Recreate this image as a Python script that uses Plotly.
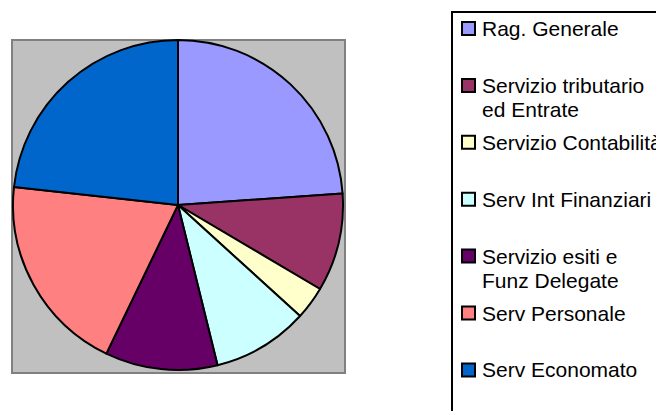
import plotly.graph_objects as go

W, H = 656, 411

labels = [
    "Rag. Generale",
    "Servizio tributario<br>ed Entrate",
    "Servizio Contabilità",
    "Serv Int Finanziari",
    "Servizio esiti e<br>Funz Delegate",
    "Serv Personale",
    "Serv Economato",
]
values = [23.9, 9.6, 3.25, 9.4, 11.0, 19.6, 23.25]
colors = ["#9999FF", "#993366", "#FFFFCC", "#CCFFFF", "#660066", "#FF8080", "#0066CC"]

FONT = "Liberation Sans, Arial, sans-serif"


def px_x(v):
    return v / W


def px_y(v):
    return 1 - v / H


fig = go.Figure(go.Pie(
    labels=labels,
    values=values,
    sort=False,
    direction="clockwise",
    rotation=0,
    textinfo="none",
    hoverinfo="label+percent",
    showlegend=False,
    marker=dict(colors=colors, line=dict(color="black", width=2)),
    domain=dict(x=[px_x(13), px_x(343)], y=[px_y(370), px_y(40)]),
))

# grey plot-area square behind the pie
fig.add_shape(type="rect", xref="paper", yref="paper", layer="below",
              x0=px_x(12), x1=px_x(345), y0=px_y(373), y1=px_y(40),
              fillcolor="#C0C0C0", line=dict(color="#808080", width=2))

# legend drawn by hand: Excel gives every entry two lines of room,
# and the frame runs off the right and bottom of the picture
fig.add_shape(type="rect", xref="paper", yref="paper",
              x0=px_x(452), x1=px_x(720), y0=px_y(460), y1=px_y(12),
              fillcolor="rgba(0,0,0,0)", line=dict(color="black", width=2))

row0, row_step, line_step = 28.5, 56.9, 24
for i, (lab, col) in enumerate(zip(labels, colors)):
    cy = row0 + i * row_step
    fig.add_shape(type="rect", xref="paper", yref="paper",
                  x0=px_x(462), x1=px_x(475), y0=px_y(cy + 6.5), y1=px_y(cy - 6.5),
                  fillcolor=col, line=dict(color="black", width=2))
    for j, line in enumerate(lab.split("<br>")):
        fig.add_annotation(x=px_x(480), y=px_y(cy + j * line_step),
                           xref="paper", yref="paper", xanchor="left", yanchor="middle",
                           text=line, showarrow=False,
                           font=dict(family=FONT, size=21, color="black"))

fig.update_layout(
    width=W, height=H,
    margin=dict(l=0, r=0, t=0, b=0),
    paper_bgcolor="white",
    plot_bgcolor="white",
    font=dict(family=FONT, size=21, color="black"),
    showlegend=False,
)

# drop the page's default body margin so the figure sits at the window corner
fig.write_html("out.html",
               config={"displayModeBar": False},
               post_script="document.body.style.margin='0';document.body.style.overflow='hidden';")
